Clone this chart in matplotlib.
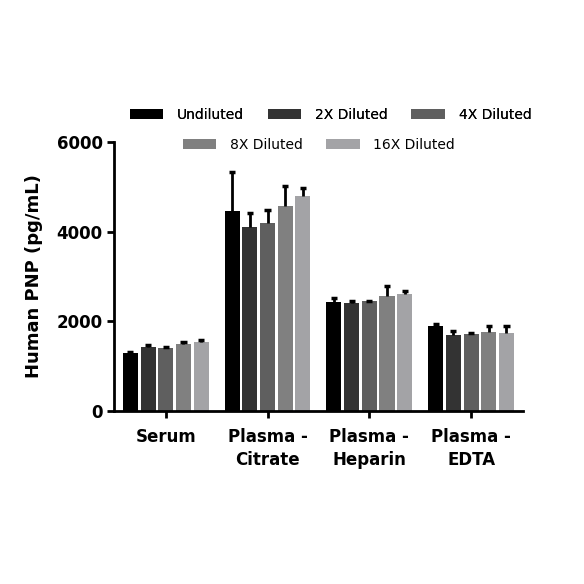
import matplotlib
matplotlib.use("Agg")
import matplotlib.pyplot as plt
import numpy as np
from matplotlib.patches import Patch

# Data ------------------------------------------------------------------
samples = ["Serum", "Plasma -\nCitrate", "Plasma -\nHeparin", "Plasma -\nEDTA"]
dilutions = ["Undiluted", "2X Diluted", "4X Diluted", "8X Diluted", "16X Diluted"]

undiluted = [1306, 4467, 2426, 1892]
diluted_2x = [1440, 4111, 2412, 1692]
diluted_4x = [1411, 4185, 2448, 1729]
diluted_8x = [1507, 4563, 2559, 1758]
diluted_16x = [1551, 4786, 2612, 1744]

err_undiluted = [20, 853, 89, 44]
err_2x = [40, 304, 51, 97]
err_4x = [20, 297, 15, 15]
err_8x = [25, 460, 231, 134]
err_16x = [40, 186, 74, 148]

yticks = [0, 2000, 4000, 6000]

colors = ["#000000", "#333333", "#5f5f5f", "#808080", "#a3a3a6"]

values = [undiluted, diluted_2x, diluted_4x, diluted_8x, diluted_16x]
errors = [err_undiluted, err_2x, err_4x, err_8x, err_16x]

# Figure ----------------------------------------------------------------
fig = plt.figure(figsize=(5.84, 5.84), dpi=100)
ax = fig.add_axes([0.195, 0.296, 0.7005, 0.461])

x = np.arange(len(samples))
slot = 0.174
width = 0.148
cap_half = 0.03
for i, (vals, errs, color) in enumerate(zip(values, errors, colors)):
    pos = x + (i - 2) * slot
    tops = np.array(vals) + np.array(errs)
    ax.bar(pos, vals, width=width, color=color, edgecolor="none", zorder=2)
    # upper error bar only, Prism style
    ax.vlines(pos, vals, tops, color="black", linewidth=2, zorder=3)
    ax.hlines(tops, pos - cap_half, pos + cap_half, color="black",
              linewidth=2.5, zorder=3)

ax.set_xlim(-0.51, 3.51)
ax.set_ylim(0, 6000)
ax.set_yticks(yticks)
ax.set_xticks(x)
ax.set_xticklabels(samples, fontsize=12, fontweight="bold", linespacing=1.35)
for lbl in ax.get_yticklabels():
    lbl.set_fontsize(12)
    lbl.set_fontweight("bold")
ax.set_ylabel("Human PNP (pg/mL)", fontsize=13, fontweight="bold", labelpad=10)

for side in ("top", "right"):
    ax.spines[side].set_visible(False)
for side in ("left", "bottom"):
    ax.spines[side].set_linewidth(2)
ax.tick_params(axis="both", width=2, length=5, pad=3)
ax.tick_params(axis="x", pad=7)

# Legend in two centred rows
handles = [Patch(facecolor=c, edgecolor="none") for c in colors]
legend_kw = dict(loc="center", frameon=False, fontsize=10,
                 handlelength=2.4, handleheight=0.75, handletextpad=1.0,
                 columnspacing=1.7)
leg1 = fig.legend(handles[:3], dilutions[:3], ncol=3,
                  bbox_to_anchor=(0.566, 0.803), **legend_kw)
fig.add_artist(leg1)
fig.legend(handles[3:], dilutions[3:], ncol=2,
           bbox_to_anchor=(0.546, 0.752), **legend_kw)

fig.savefig("out.png", dpi=100)
